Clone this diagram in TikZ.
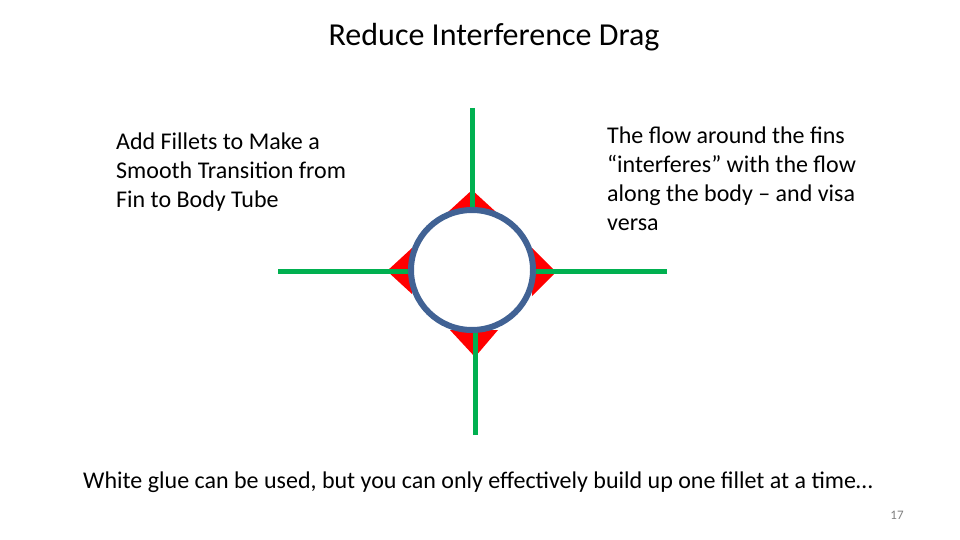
\documentclass[tikz,border=0pt]{standalone}
\usepackage{fontspec}
\setmainfont{Carlito}
\begin{document}
\begin{tikzpicture}
	[x=1pt, y=-1pt,
	 Fin/.style={draw={rgb,255:red,0;green,176;blue,80}, line width=5pt},			%Options for fins
	 Fillet/.style={fill=red},
	 BodyTube/.style={draw={rgb,255:red,65;green,98;blue,148}, line width=6pt},
	 BodyText/.style={font=\fontsize{24}{29}\selectfont, align=left, inner sep=0pt}
	]
	\useasboundingbox (0,0) rectangle (960,540);

	\def\Cx{472};		%Centre of the body tube
	\def\Cy{270};

	%Fillets
	\fill[Fillet] (\Cx-24,212) -- (\Cx,190) -- (\Cx+24,212) -- cycle;
	\fill[Fillet] (\Cx-22,330) -- (475,357) -- (\Cx+26,330) -- cycle;
	\fill[Fillet] (412,248) -- (387,271) -- (412,294) -- cycle;
	\fill[Fillet] (532,248) -- (556,272) -- (532,296) -- cycle;

	%Fins
	\coordinate (fintop) at (\Cx,108);
	\coordinate (finbot) at (475,435);
	\coordinate (finleft) at (278,271);
	\coordinate (finright) at (667,271);
	\draw[Fin] (fintop) -- (\Cx,212);
	\draw[Fin] (finbot) -- (475,330);
	\draw[Fin] (finleft) -- (410,271);
	\draw[Fin] (finright) -- (534,271);

	%Body tube
	\draw[BodyTube] (\Cx,\Cy) ellipse [x radius=61pt, y radius=60pt];

	\node[font=\fontsize{32}{36}\selectfont, anchor=base] (title) at (494,46) {Reduce Interference Drag};
	\node[BodyText, anchor=north west] (fillets) at (116,133) {Add Fillets to Make a\\Smooth Transition from\\Fin to Body Tube};
	\node[BodyText, anchor=north west] (flow) at (607,127) {The flow around the fins\\“interferes” with the flow\\along the body – and visa\\versa};
	\node[font=\fontsize{24}{29}\selectfont, anchor=base] (glue) at (478,488) {White glue can be used, but you can only effectively build up one fillet at a time…};
	\node[font=\fontsize{13}{15}\selectfont, text=gray, anchor=base] (page) at (897,519) {17};
\end{tikzpicture}
\end{document}
